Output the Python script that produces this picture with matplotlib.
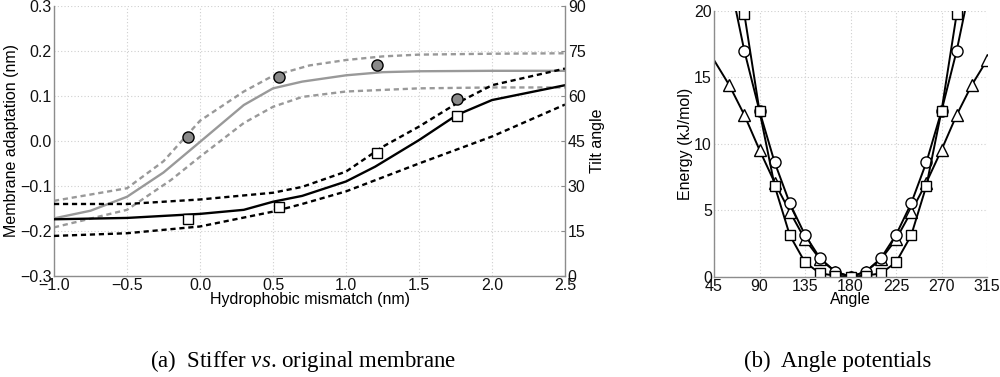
# -*- coding: utf-8 -*-
'''
Stiffer vs. original membrane, and angle potentials
'''
import matplotlib
matplotlib.use('Agg')
import matplotlib.pyplot as plt
from matplotlib.ticker import FuncFormatter, MultipleLocator

# ---- panel (a): membrane adaptation (grey, left axis) ----
xGreySolid = [-1.0, -0.75, -0.5, -0.25, 0.0, 0.3, 0.5, 0.7, 1.0, 1.25, 1.5, 2.0, 2.5]
yGreySolid = [-0.172, -0.155, -0.124, -0.07, -0.002, 0.08, 0.117, 0.132, 0.146, 0.153, 0.155, 0.156, 0.156]
xGreyUpper = [-1.0, -0.5, -0.25, 0.0, 0.3, 0.5, 0.75, 1.0, 1.25, 1.5, 2.0, 2.5]
yGreyUpper = [-0.133, -0.105, -0.045, 0.045, 0.11, 0.145, 0.168, 0.18, 0.188, 0.192, 0.194, 0.195]
xGreyLower = [-1.0, -0.5, -0.2, 0.0, 0.3, 0.5, 0.7, 1.0, 1.5, 2.0, 2.5]
yGreyLower = [-0.192, -0.153, -0.087, -0.035, 0.04, 0.076, 0.098, 0.11, 0.117, 0.119, 0.119]
xCircles = [-0.08, 0.54, 1.21, 1.76]
yCircles = [0.008, 0.143, 0.169, 0.093]

# ---- panel (a): tilt angle (black, right axis) ----
xBlackSolid = [-1.0, -0.5, 0.0, 0.3, 0.5, 0.7, 1.0, 1.2, 1.5, 1.76, 2.0, 2.5]
tBlackSolid = [18.9, 19.35, 20.7, 22.05, 24.75, 26.7, 31.5, 36.45, 45.3, 53.7, 58.65, 63.6]
xBlackUpper = [-1.0, -0.5, 0.0, 0.5, 0.7, 1.0, 1.25, 1.5, 1.76, 2.0, 2.5]
tBlackUpper = [24.0, 24.0, 25.5, 27.75, 29.7, 34.8, 43.05, 49.8, 57.6, 63.6, 69.15]
xBlackLower = [-1.0, -0.5, 0.0, 0.5, 0.7, 1.0, 1.5, 2.0, 2.5]
tBlackLower = [13.35, 14.25, 16.5, 21.45, 24.0, 28.2, 37.5, 46.5, 57.15]
xSquares = [-0.08, 0.54, 1.21, 1.76]
tSquares = [18.9, 23.1, 40.95, 53.4]

# ---- panel (b): angle potentials ----
angles = [45, 60, 75, 90, 105, 120, 135, 150, 165, 180,
          195, 210, 225, 240, 255, 270, 285, 300, 315]
eTriangle = [16.3, 14.43, 12.17, 9.54, 7.08, 4.89, 2.81, 1.3, 0.38, 0.0,
             0.38, 1.3, 2.81, 4.89, 7.08, 9.54, 12.17, 14.43, 16.3]
anglesCS = [60, 75, 90, 105, 120, 135, 150, 165, 180,
            195, 210, 225, 240, 255, 270, 285, 300]
eCircle = [22.5, 17.0, 12.47, 8.6, 5.52, 3.14, 1.38, 0.38, 0.0,
           0.38, 1.38, 3.14, 5.52, 8.6, 12.47, 17.0, 22.5]
eSquare = [25.0, 19.77, 12.47, 6.83, 3.11, 1.08, 0.25, 0.08, 0.0,
           0.08, 0.25, 1.08, 3.11, 6.83, 12.47, 19.77, 25.0]

GREY = '#999999'
SPINE = '#8c8c8c'
GRIDC = '#cfcfcf'
FS = 11.5


def Fmt(fmt):
    '''tick formatter with a real minus sign'''
    return FuncFormatter(lambda v, p: (fmt % v).replace('-', '\u2212'))
#End of Fmt


def StyleAxes(ax):
    for side in ['top', 'right']:
        ax.spines[side].set_visible(False)
    for side in ['left', 'bottom']:
        ax.spines[side].set_color(SPINE)
        ax.spines[side].set_linewidth(1.0)
    ax.tick_params(length=0, pad=1.5, labelsize=FS, colors='#111111')
    ax.grid(True, linestyle=(0, (1, 2)), color=GRIDC, linewidth=0.8)
    ax.set_axisbelow(True)
#End of StyleAxes


def main():
    plt.rcParams['font.family'] = ['Liberation Sans', 'DejaVu Sans']
    plt.rcParams['mathtext.fontset'] = 'custom'
    plt.rcParams['mathtext.rm'] = 'Liberation Serif'
    plt.rcParams['mathtext.it'] = 'Liberation Serif:italic'

    fig = plt.figure(figsize=(10, 3.77), dpi=100)
    dash = (0, (2.2, 1.6))

    # ---------------- panel (a) ----------------
    ax = fig.add_axes([0.054, 0.268, 0.511, 0.716])
    StyleAxes(ax)
    ax.set_xlim(-1.0, 2.5)
    ax.set_ylim(-0.3, 0.3)
    ax.xaxis.set_major_locator(MultipleLocator(0.5))
    ax.yaxis.set_major_locator(MultipleLocator(0.1))
    ax.xaxis.set_major_formatter(Fmt('%.1f'))
    ax.yaxis.set_major_formatter(Fmt('%.1f'))

    ax.plot(xGreySolid, yGreySolid, color=GREY, lw=1.7)
    ax.plot(xGreyUpper, yGreyUpper, color=GREY, lw=1.7, linestyle=dash)
    ax.plot(xGreyLower, yGreyLower, color=GREY, lw=1.7, linestyle=dash)

    ax.set_xlabel('Hydrophobic mismatch (nm)', fontsize=FS, labelpad=-1)
    ax.set_ylabel('Membrane adaptation (nm)', fontsize=FS, labelpad=1)

    ax2 = ax.twinx()
    ax2.set_ylim(0, 90)
    ax2.yaxis.set_major_locator(MultipleLocator(15))
    ax2.yaxis.set_major_formatter(Fmt('%d'))
    for side in ['top', 'left', 'bottom']:
        ax2.spines[side].set_visible(False)
    ax2.spines['right'].set_color(SPINE)
    ax2.spines['right'].set_linewidth(1.0)
    ax2.tick_params(length=3, width=0.8, direction='in', color=SPINE,
                    pad=2, labelsize=FS, labelcolor='#111111')
    ax2.set_ylabel('Tilt angle', fontsize=FS, labelpad=3)

    ax2.plot(xBlackSolid, tBlackSolid, color='black', lw=1.7)
    ax2.plot(xBlackUpper, tBlackUpper, color='black', lw=1.7, linestyle=dash)
    ax2.plot(xBlackLower, tBlackLower, color='black', lw=1.7, linestyle=dash)
    ax2.plot(xSquares, tSquares, linestyle='none', marker='s', markersize=6.5,
             markerfacecolor='white', markeredgecolor='black', markeredgewidth=1.0)
    # circles are in membrane units, drawn on top through the left scale
    ax2.plot(xCircles, yCircles, linestyle='none', marker='o', markersize=8,
             markerfacecolor='#8a8a8a', markeredgecolor='black', markeredgewidth=1.0,
             transform=ax.transData)

    # ---------------- panel (b) ----------------
    bx = fig.add_axes([0.714, 0.266, 0.273, 0.705])
    StyleAxes(bx)
    bx.set_xlim(45, 315)
    bx.set_ylim(0, 20)
    bx.xaxis.set_major_locator(MultipleLocator(45))
    bx.yaxis.set_major_locator(MultipleLocator(5))

    mk = dict(color='black', lw=1.4, markerfacecolor='white',
              markeredgecolor='black', markeredgewidth=1.0)
    bx.plot(angles, eTriangle, marker='^', markersize=9,
            markevery=list(range(1, len(angles))), **mk)
    bx.plot(anglesCS, eCircle, marker='o', markersize=8,
            markevery=list(range(1, len(anglesCS) - 1)), **mk)
    bx.plot(anglesCS, eSquare, marker='s', markersize=6.5,
            markevery=list(range(1, len(anglesCS) - 1)), **mk)

    bx.set_xlabel('Angle', fontsize=FS, labelpad=-1)
    bx.set_ylabel('Energy (kJ/mol)', fontsize=FS, labelpad=1)

    # ---------------- captions ----------------
    fig.text(0.303, 0.027, r'(a)  Stiffer $\mathit{vs}$. original membrane',
             ha='center', va='baseline', fontsize=16.5, family='Liberation Serif')
    fig.text(0.838, 0.027, '(b)  Angle potentials',
             ha='center', va='baseline', fontsize=16.5, family='Liberation Serif')

    fig.savefig('out.png', dpi=100)
#End of main


if __name__ == '__main__':
    main()
